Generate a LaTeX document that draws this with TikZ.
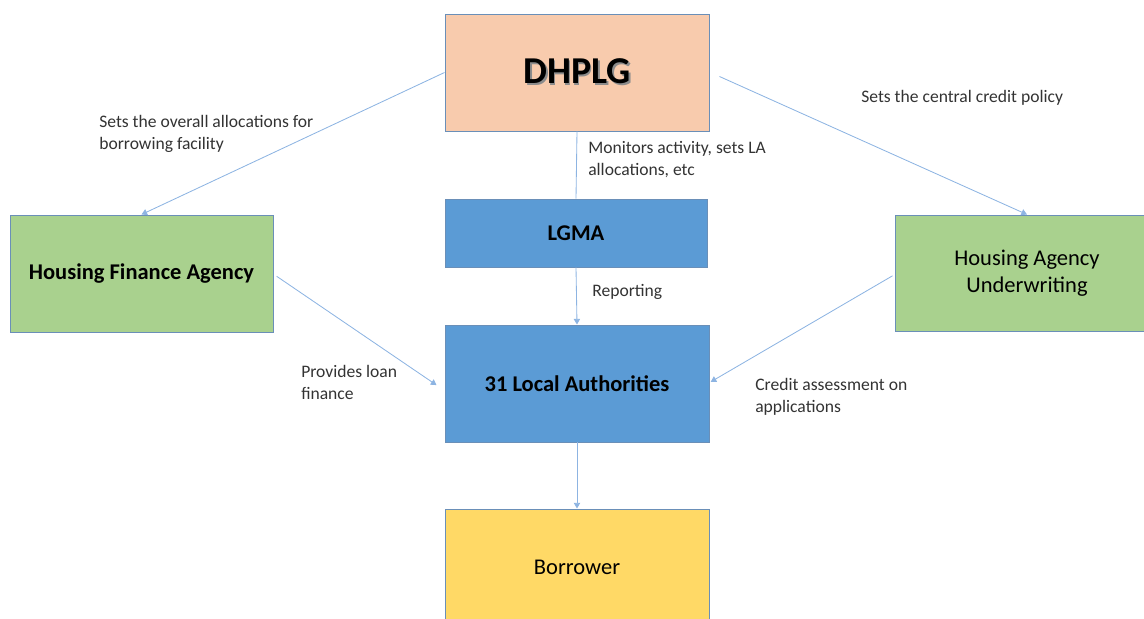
\documentclass[tikz,border=0pt]{standalone}
\usepackage{fontspec}
\setmainfont{Carlito}
\usetikzlibrary{arrows.meta}
\definecolor{peach}{HTML}{F8CBAD}
\definecolor{leaf}{HTML}{A9D18E}
\definecolor{steel}{HTML}{5B9BD5}
\definecolor{gold}{HTML}{FFD966}
\definecolor{rim}{HTML}{6A8FB8}
\definecolor{wire}{HTML}{8DB4E2}
\newcommand{\shadowed}[1]{\makebox[0pt][l]{\hspace{1.3pt}\raisebox{-1.3pt}{\color{black!45}#1}}#1}
\tikzset{
  box/.style={draw=rim, line width=0.7pt, minimum width=6.6cm, minimum height=2.925cm, align=center, font=\fontsize{16}{19}\selectfont},
  link/.style={wire, line width=0.6pt, -{Triangle[length=4pt,width=4.5pt]}},
  note/.style={anchor=west, inner sep=0pt, align=left, text=black!80, font=\fontsize{12.5}{15.6}\selectfont}
}
\begin{document}
\begin{tikzpicture}
\clip (0,0) rectangle (28.6,-15.475);
\node[box, fill=peach, font=\fontsize{27}{30}\selectfont\bfseries] (dhplg) at (14.425,-1.8125) {\shadowed{DHPLG}};
\node[box, fill=leaf, minimum width=6.575cm, font=\fontsize{16}{19}\selectfont\bfseries] (hfa) at (3.5375,-6.8375) {Housing Finance Agency};
\node[box, fill=steel, minimum width=6.55cm, minimum height=1.7cm, font=\fontsize{16}{19}\selectfont\bfseries] (lgma) at (14.4,-5.825) {LGMA};
\node[box, fill=leaf, minimum height=2.9cm] (hau) at (25.675,-6.825) {Housing Agency\\Underwriting};
\node[box, fill=steel, font=\fontsize{16}{19}\selectfont\bfseries] (la) at (14.425,-9.5875) {31 Local Authorities};
\node[box, fill=gold] (borrower) at (14.425,-14.1875) {Borrower};
% connectors
\draw[link] (dhplg.west) -- (hfa.north);
\draw[link] ([xshift=0.25cm,yshift=-0.1cm]dhplg.east) -- (hau.north);
\draw[wire, line width=0.6pt] (dhplg.south) -- (lgma.north);
\draw[link] (lgma.south) -- (la.north);
\draw[link] ([xshift=0.08cm,yshift=-0.07cm]hfa.east) -- ([xshift=-0.2cm,yshift=-0.04cm]la.west);
\draw[link] ([xshift=-0.05cm,yshift=-0.07cm]hau.west) -- ([xshift=0.03cm,yshift=0.04cm]la.east);
\draw[link] (la.south) -- (borrower.north);
% labels
\node[note] (n1) at (2.475,-3.34) {Sets the overall allocations for\\borrowing facility};
\node[note] (n2) at (21.525,-2.45) {Sets the central credit policy};
\node[note] (n3) at (14.7,-4.0) {Monitors activity, sets LA\\allocations, etc};
\node[note] (n4) at (14.8,-7.3) {Reporting};
\node[note] (n5) at (7.525,-9.57) {Provides loan\\finance};
\node[note] (n6) at (18.875,-9.92) {Credit assessment on\\applications};
\end{tikzpicture}
\end{document}
